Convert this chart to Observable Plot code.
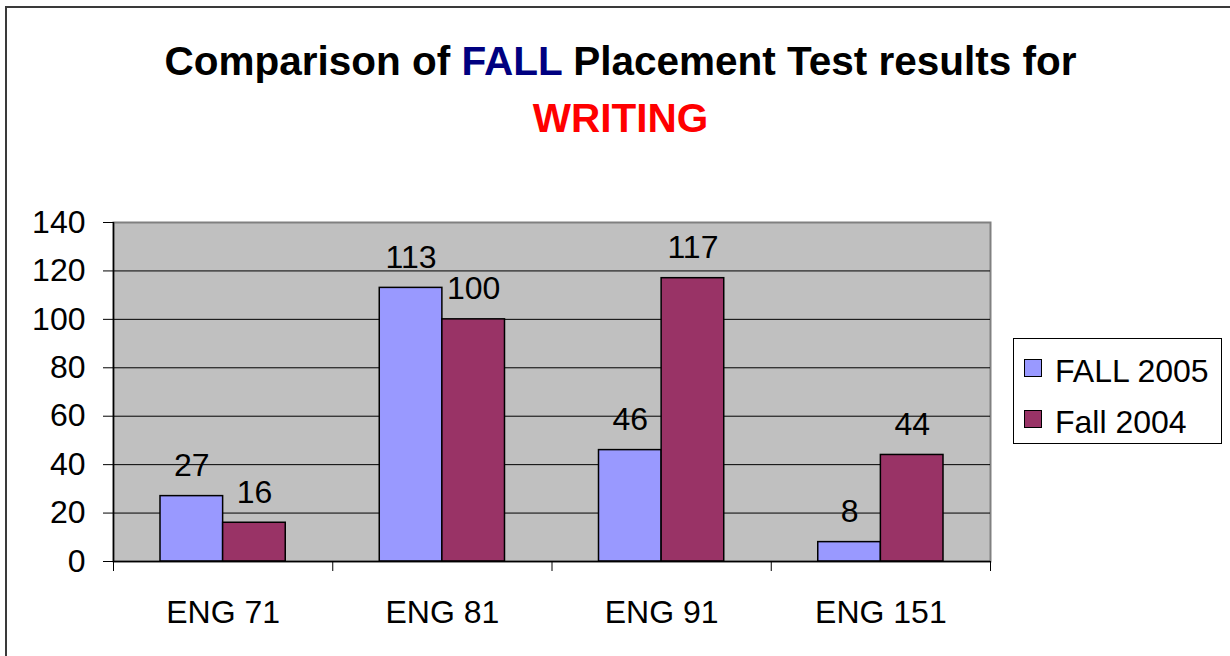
<!DOCTYPE html>
<html>
<head>
<meta charset="utf-8">
<script src="https://cdn.jsdelivr.net/npm/d3@7"></script>
<script src="https://cdn.jsdelivr.net/npm/@observablehq/plot@0.6"></script>
<style>
  html, body { margin: 0; padding: 0; background: white; }
  #wrap { position: relative; width: 1230px; height: 656px; overflow: hidden; font-family: "Liberation Sans", Arial, sans-serif; }
  .title { position: absolute; left: 0; width: 1241px; text-align: center; font-weight: bold; font-size: 40.5px; line-height: 40px; white-space: nowrap; }
  #chart { position: absolute; left: 0; top: 160px; }
  .bline { position: absolute; background: #3a3a3a; }
  #legend { position: absolute; left: 1013px; top: 338px; width: 209px; height: 106px; border: 1px solid #000; background: white; box-sizing: border-box; }
  .item { position: absolute; left: 0; font-size: 32px; line-height: 32px; white-space: nowrap; }
  .sw { position: absolute; left: 10px; width: 16px; height: 16px; border: 1.5px solid #000; }
  .lbl { position: absolute; left: 41px; }
</style>
</head>
<body>
<div id="wrap">
  <div class="title" style="top:41px">Comparison of <span style="color:#000080">FALL</span> Placement Test results for</div>
  <div class="title" style="top:98px;color:#ff0000">WRITING</div>
  <div id="chart"></div>
  <div id="legend"></div>
  <div class="bline" style="left:6px;top:6px;width:1224px;height:2px"></div>
  <div class="bline" style="left:5px;top:6px;width:2px;height:650px"></div>
</div>
<script>
const categories = ["ENG 71", "ENG 81", "ENG 91", "ENG 151"];
const seriesNames = ["FALL 2005", "Fall 2004"];
const fall2005 = [27, 113, 46, 8];
const fall2004 = [16, 100, 117, 44];
const yTicks = [0, 20, 40, 60, 80, 100, 120, 140];
const seriesColors = ["#9999ff", "#993366"];

const seriesValues = [fall2005, fall2004];
const table = categories.flatMap((c, i) =>
  seriesNames.map((s, k) => ({cat: c, i, k, series: s, value: seriesValues[k][i]}))
);

const groupPad = 0.2144;
const barW = 0.2856;

const chart = Plot.plot({
  width: 1230,
  height: 496,
  marginLeft: 113,
  marginRight: 240,
  marginTop: 62,
  marginBottom: 95,
  style: {fontFamily: "'Liberation Sans', Arial, sans-serif", fontSize: "32px", background: "white", color: "black", overflow: "visible"},
  x: {type: "linear", domain: [0, categories.length]},
  y: {domain: [0, 140]},
  color: {domain: seriesNames, range: seriesColors},
  marks: [
    Plot.frame({fill: "#c0c0c0", stroke: "#808080", strokeWidth: 2}),
    Plot.ruleY(yTicks.filter(t => t > 0 && t < 140), {stroke: "black", strokeWidth: 1}),
    Plot.rectY(table, {
      x1: d => d.i + groupPad + d.k * barW,
      x2: d => d.i + groupPad + (d.k + 1) * barW,
      y1: 0,
      y2: "value",
      fill: "series",
      stroke: "black",
      strokeWidth: 1.5
    }),
    Plot.ruleX([0], {stroke: "black", strokeWidth: 1.5}),
    Plot.ruleY([0], {stroke: "black", strokeWidth: 1.5}),
    Plot.axisY({ticks: yTicks, tickSize: 10, tickPadding: 18, tickFormat: d => String(d), fontSize: 32, label: null}),
    Plot.axisX({ticks: d3.range(categories.length + 1), tickSize: 10, tickFormat: () => "", label: null}),
    Plot.axisX({ticks: categories.map((_, i) => i + 0.5), tickSize: 0, tickPadding: 39,
      tickFormat: d => categories[Math.floor(d)], fontSize: 32, label: null}),
    Plot.text(table, {
      x: d => d.i + groupPad + (d.k + 0.5) * barW,
      y: "value",
      text: d => String(d.value),
      dy: -20,
      lineAnchor: "bottom",
      fontSize: 32,
      fill: "black"
    })
  ]
});
document.getElementById("chart").appendChild(chart);

const legend = document.getElementById("legend");
seriesNames.forEach((s, k) => {
  const item = document.createElement("div");
  item.className = "item";
  item.style.top = (k === 0 ? 20 : 71) + "px";
  item.style.width = "100%";
  item.style.height = "32px";
  const sw = document.createElement("div");
  sw.className = "sw";
  sw.style.top = "0px";
  sw.style.background = seriesColors[k];
  const lbl = document.createElement("div");
  lbl.className = "lbl";
  lbl.style.top = "-4px";
  lbl.textContent = s;
  item.appendChild(sw);
  item.appendChild(lbl);
  legend.appendChild(item);
});
</script>
</body>
</html>
